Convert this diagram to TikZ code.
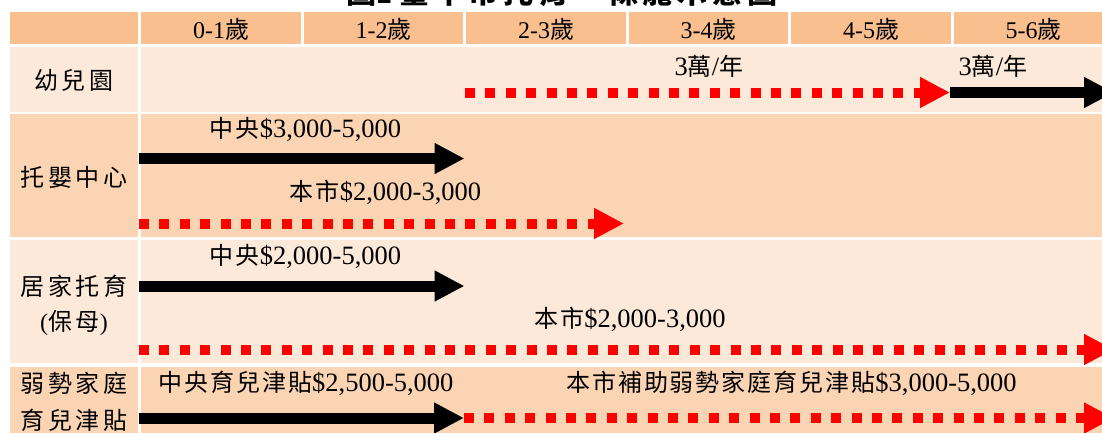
\documentclass[tikz,border=0pt]{standalone}
\usepackage{fontspec}
\setmainfont{Liberation Serif}
\newfontfamily\cjk[LetterSpace=16]{Noto Sans CJK TC}
\newfontfamily\cjkd[LetterSpace=8]{Noto Sans CJK TC}
\usetikzlibrary{arrows.meta}
\definecolor{headorange}{HTML}{FABF8F}
\definecolor{rowlight}{HTML}{FDE9D9}
\definecolor{rowdark}{HTML}{FBD4B4}
\newcommand{\zh}[1]{{\cjk #1}}
\newcommand{\zhd}[1]{{\fontsize{24}{30}\selectfont\cjkd #1}}
\newcommand{\band}[3] {
    \fill[#3] (10,#1) rectangle (138.3,#2);
    \fill[#3] (141.3,#1) rectangle (1113.3,#2);
}
\tikzset{
    tabtext/.style={anchor=base,inner sep=0pt,font=\fontsize{24}{30}\selectfont},
    feetext/.style={anchor=base,inner sep=0pt,font=\fontsize{26.5}{30}\selectfont},
    rowname/.style={anchor=center,inner sep=0pt,font=\fontsize{24}{30}\selectfont},
    titletext/.style={anchor=base,inner sep=0pt,font=\fontsize{30}{36}\selectfont\bfseries},
    blackarrow/.style={black,line width=11pt,-{Triangle[length=30pt,width=29pt]}},
    redarrow/.style={red,line width=10pt,dash pattern=on 10pt off 10.4pt,-{Triangle[length=30pt,width=29pt]}}
}

\begin{document}
\begin{tikzpicture}[x=1pt,y=-1pt]
        \useasboundingbox (0,0) rectangle (1102,432);
        \node[titletext] (title) at (562,3.5) {\zh{圖}2 \zh{臺中市托育一條龍示意圖}};
        \fill[headorange] (10,12) rectangle (138.3,43.7);
        \foreach \k/\age in {0/0-1,1/1-2,2/2-3,3/3-4,4/4-5,5/5-6} {
            \pgfmathsetmacro{\xl}{141.3+\k*162.5}
            \fill[headorange] (\xl,12) rectangle ++(159.5,31.7);
            \node[tabtext] (age\k) at (\xl+79.75,38.5) {\age\zh{歲}};
        }
        \band{47}{111.7}{rowlight}
        \band{114.3}{237.3}{rowdark}
        \band{240}{363.3}{rowlight}
        \band{366.7}{480}{rowdark}
        \node[rowname] (kg) at (74,80) {\zh{幼兒園}};
        \node[rowname] (nursery) at (74,177) {\zh{托嬰中心}};
        \node[rowname] (home1) at (74,286) {\zh{居家托育}};
        \node[rowname] (home2) at (74,323) {(\zh{保母})};
        \node[rowname] (poor1) at (74,383) {\zh{弱勢家庭}};
        \node[rowname] (poor2) at (74,420) {\zh{育兒津貼}};
        \coordinate (kg-a) at (465,92.5);
        \coordinate (kg-b) at (950,92.5);
        \coordinate (kg-c) at (1114,92.5);
        \coordinate (nur-a) at (139,158.5);
        \coordinate (nur-b) at (464.5,158.5);
        \coordinate (nur-c) at (139,223.5);
        \coordinate (nur-d) at (624,223.5);
        \coordinate (home-a) at (139,286);
        \coordinate (home-b) at (464.5,286);
        \coordinate (home-c) at (139,349.5);
        \coordinate (home-d) at (1114,349.5);
        \coordinate (poor-a) at (139,418);
        \coordinate (poor-b) at (464,418);
        \coordinate (poor-c) at (1114,418);
        \draw[redarrow] (kg-a) -- (kg-b);
        \draw[blackarrow] (kg-b) -- (kg-c);
        \draw[blackarrow] (nur-a) -- (nur-b);
        \draw[redarrow] (nur-c) -- (nur-d);
        \draw[blackarrow] (home-a) -- (home-b);
        \draw[redarrow] (home-c) -- (home-d);
        \draw[blackarrow] (poor-a) -- (poor-b);
        \draw[redarrow] (poor-b) -- (poor-c);
        \node[feetext] (kg-fee1) at (709,75) {3\zhd{萬}/\zhd{年}};
        \node[feetext] (kg-fee2) at (993,75) {3\zhd{萬}/\zhd{年}};
        \node[feetext] (nur-cen) at (305.5,137) {\zhd{中央}\$3,000-5,000};
        \node[feetext] (nur-city) at (385.5,200) {\zhd{本市}\$2,000-3,000};
        \node[feetext] (home-cen) at (305.5,264.5) {\zhd{中央}\$2,000-5,000};
        \node[feetext] (home-city) at (630,327) {\zhd{本市}\$2,000-3,000};
        \node[feetext] (poor-cen) at (306,391) {\zhd{中央育兒津貼}\$2,500-5,000};
        \node[feetext] (poor-city) at (791.5,391) {\zhd{本市補助弱勢家庭育兒津貼}\$3,000-5,000};
    \end{tikzpicture}
\end{document}
